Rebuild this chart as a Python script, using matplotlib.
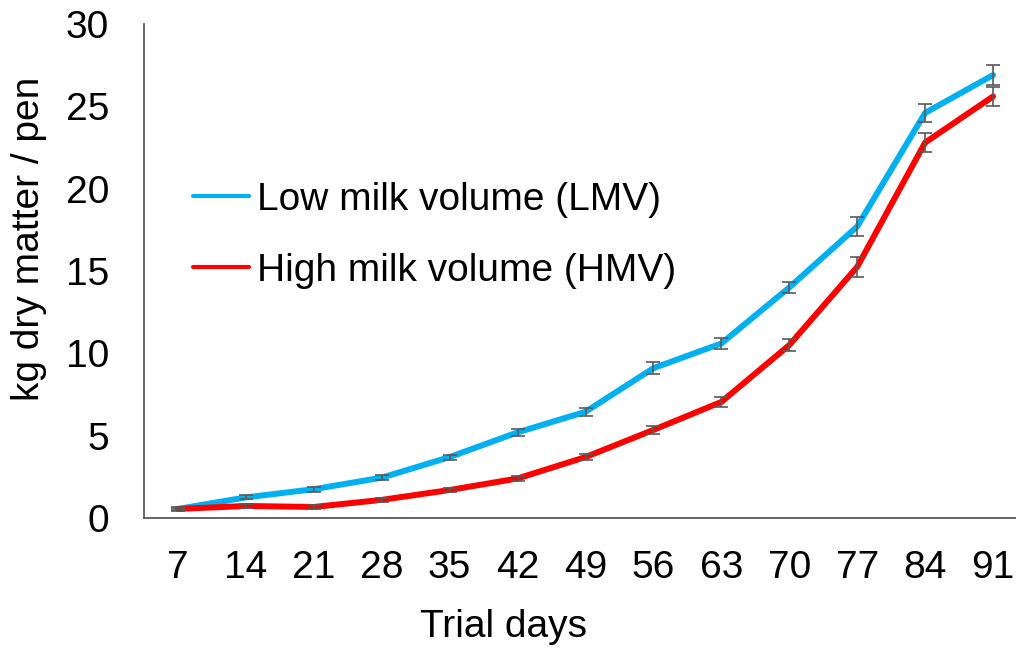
import matplotlib
matplotlib.use('Agg')
import matplotlib.pyplot as plt

plt.rcParams['font.family'] = ['Liberation Sans', 'DejaVu Sans']

DAYS = ['7', '14', '21', '28', '35', '42', '49', '56', '63', '70', '77', '84', '91']
LMV = [0.55, 1.25, 1.75, 2.45, 3.7, 5.2, 6.45, 9.1, 10.6, 14.0, 17.7, 24.6, 26.9]
LMV_ERR = [0.1, 0.12, 0.15, 0.15, 0.15, 0.2, 0.25, 0.35, 0.35, 0.33, 0.6, 0.55, 0.63]
HMV = [0.55, 0.73, 0.67, 1.1, 1.7, 2.4, 3.7, 5.35, 7.05, 10.5, 15.25, 22.8, 25.6]
HMV_ERR = [0.08, 0.1, 0.1, 0.1, 0.12, 0.15, 0.18, 0.25, 0.3, 0.36, 0.63, 0.6, 0.58]

BLUE = '#00B0F0'
RED = '#FF0000'
GREY = '#595959'
FS = 28


def main() -> None:
    fig = plt.figure(figsize=(10.16, 6.5), dpi=100)
    ax = fig.add_axes([144 / 1016, 1 - 518 / 650, 1 - 144 / 1016, (518 - 24) / 650])
    x = list(range(len(DAYS)))

    ax.plot(x, LMV, color=BLUE, lw=4.3, solid_capstyle='round', label='Low milk volume (LMV)', zorder=2)
    ax.plot(x, HMV, color=RED, lw=4.3, solid_capstyle='round', label='High milk volume (HMV)', zorder=2)
    for vals, errs in ((LMV, LMV_ERR), (HMV, HMV_ERR)):
        ax.errorbar(x, vals, yerr=errs, fmt='none', ecolor=GREY, elinewidth=1.2,
                    capsize=5, capthick=1.2, zorder=3)

    ax.set_ylim(0, 30)
    ax.set_yticks(range(0, 31, 5))
    ax.set_xlim(-0.5, 12.5 - 11 / 67.9)
    ax.set_xticks(x)
    ax.set_xticklabels(DAYS)
    ax.tick_params(axis='both', length=0, labelsize=FS, colors='black')
    ax.tick_params(axis='y', pad=25)
    ax.tick_params(axis='x', pad=23)

    for side in ('top', 'right'):
        ax.spines[side].set_visible(False)
    for side in ('left', 'bottom'):
        ax.spines[side].set_color(GREY)
        ax.spines[side].set_linewidth(1.3)

    fig.text(29 / 1016, 1 - 239 / 650, 'kg dry matter / pen', rotation=90,
             ha='center', va='center', fontsize=FS)
    fig.text(503 / 1016, 1 - 627 / 650, 'Trial days', ha='center', va='center', fontsize=FS)

    leg = ax.legend(loc='upper left', bbox_to_anchor=((193 - 144) / 872, (518 - 182) / 494),
                    frameon=False, fontsize=FS, handlelength=1.45, handletextpad=0.2,
                    labelspacing=0.89, borderaxespad=0, borderpad=0)
    for line in leg.get_lines():
        line.set_linewidth(3)

    fig.savefig('out.png', dpi=100)
    plt.close(fig)


if __name__ == '__main__':
    main()
